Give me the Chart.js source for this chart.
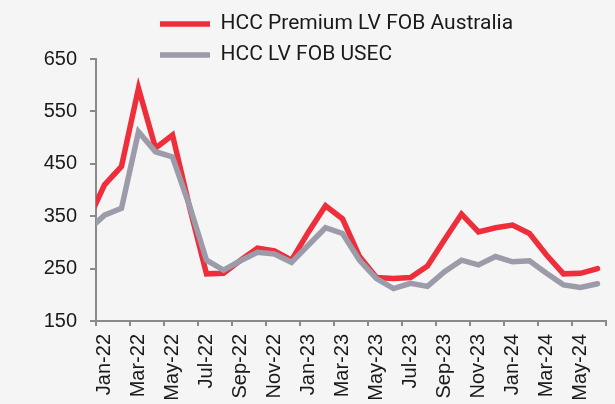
<!DOCTYPE html>
<html>
<head>
  <meta charset="utf-8">
  <title>HCC prices</title>
  <style>
    body {
      margin: 0;
      background: #f5f5f5;
    }
  </style>
</head>
<body>
  <canvas id="myChart" width="615" height="404"></canvas>

  <script src="https://cdn.jsdelivr.net/npm/chart.js@4.4.1/dist/chart.umd.min.js"></script>
  <script>
    // Dec-21 is only there so the line runs into the axis, it is clipped
    var months = [
      'Dec-21', 'Jan-22', 'Feb-22', 'Mar-22', 'Apr-22', 'May-22', 'Jun-22', 'Jul-22', 'Aug-22',
      'Sep-22', 'Oct-22', 'Nov-22', 'Dec-22', 'Jan-23', 'Feb-23', 'Mar-23', 'Apr-23', 'May-23',
      'Jun-23', 'Jul-23', 'Aug-23', 'Sep-23', 'Oct-23', 'Nov-23', 'Dec-23', 'Jan-24', 'Feb-24',
      'Mar-24', 'Apr-24', 'May-24', 'Jun-24'
    ];
    var premiumAus = [
      340, 410, 445, 594, 480, 505, 368, 240, 241, 266, 289, 284, 266, 320, 370, 345,
      273, 233, 231, 233, 255, 305, 354, 320, 328, 333, 317, 276, 240, 241, 250
    ];
    var usec = [
      322, 352, 365, 511, 473, 463, 370, 266, 247, 265, 281, 278, 262, 295, 328, 317,
      266, 231, 212, 222, 216, 244, 266, 257, 273, 263, 265, 241, 219, 214, 221
    ];
    var tickLabels = [
      'Jan-22', 'Mar-22', 'May-22', 'Jul-22', 'Sep-22', 'Nov-22', 'Jan-23', 'Mar-23',
      'May-23', 'Jul-23', 'Sep-23', 'Nov-23', 'Jan-24', 'Mar-24', 'May-24'
    ];

    var axisGray = '#8a8a8a';
    var textColor = '#1a1a1a';

    // legend sits top-left above the plot, outside the normal layout
    var legendPos = {
      id: 'legendPos',
      afterLayout: function (chart) {
        var lg = chart.legend;
        lg.left = 150;
        lg.top = 3.5;
        lg.right = 615;
        lg.bottom = 100;
      }
    };

    var everyOther = function (ctx) {
      return (ctx.index === undefined || ctx.index % 2 === 0) ? axisGray : 'rgba(0,0,0,0)';
    };

    var ctx = document.getElementById('myChart').getContext('2d');
    var myChart = new Chart(ctx, {
      type: 'line',
      data: {
        labels: months,
        datasets: [{
          label: 'HCC Premium LV FOB Australia',
          data: premiumAus,
          borderColor: '#ef2e3c',
          backgroundColor: '#ef2e3c',
          borderWidth: 5.5,
          borderCapStyle: 'round',
          pointRadius: 0,
          clip: 0,
          order: 2
        }, {
          label: 'HCC LV FOB USEC',
          data: usec,
          borderColor: '#9c9ba9',
          backgroundColor: '#9c9ba9',
          borderWidth: 5.5,
          borderCapStyle: 'round',
          pointRadius: 0,
          clip: 0,
          order: 1
        }]
      },
      options: {
        responsive: false,
        animation: false,
        layout: {
          padding: { left: 0, right: 9, top: 59, bottom: 0 }
        },
        plugins: {
          tooltip: { enabled: false },
          legend: {
            position: 'chartArea',
            align: 'start',
            reverse: true,
            labels: {
              usePointStyle: true,
              pointStyle: 'line',
              pointStyleWidth: 50,
              boxHeight: 21,
              padding: 10,
              color: textColor,
              font: { family: 'Roboto', size: 21 }
            }
          }
        },
        scales: {
          x: {
            min: 'Jan-22',
            offset: true,
            afterFit: function (scale) {
              scale.height = 83;
              scale.paddingLeft = 0;
              scale.paddingRight = 0;
            },
            grid: {
              offset: true,
              drawOnChartArea: false,
              tickLength: 5,
              lineWidth: 2,
              color: everyOther,
              tickColor: everyOther
            },
            border: { color: axisGray, width: 2 },
            ticks: {
              autoSkip: false,
              maxRotation: 90,
              minRotation: 90,
              padding: 8,
              color: textColor,
              font: { family: 'Liberation Sans', size: 20 },
              callback: function (value) {
                var lab = this.getLabelForValue(value);
                return tickLabels.indexOf(lab) !== -1 ? lab : '';
              }
            }
          },
          y: {
            min: 150,
            max: 650,
            afterFit: function (scale) { scale.width = 96; },
            grid: {
              drawOnChartArea: false,
              tickLength: 6,
              lineWidth: 2,
              color: axisGray
            },
            border: { color: axisGray, width: 2 },
            ticks: {
              stepSize: 100,
              padding: 13,
              color: textColor,
              font: { family: 'Liberation Sans', size: 20 }
            }
          }
        }
      },
      plugins: [legendPos]
    });
  </script>
</body>
</html>
